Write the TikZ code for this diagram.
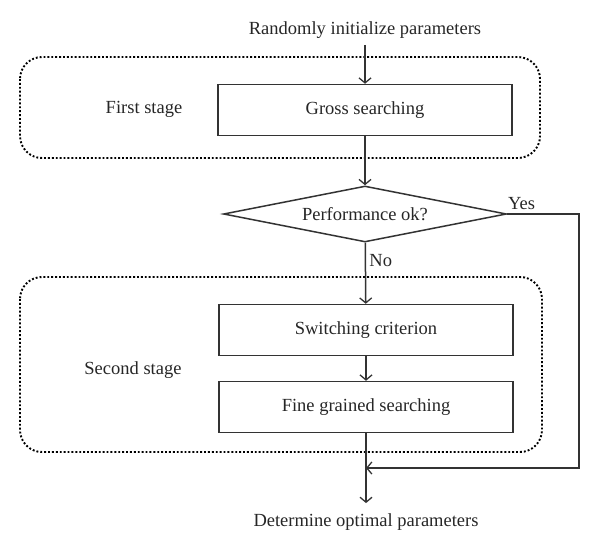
\documentclass[tikz,border=0pt]{standalone}
\usepackage{fontspec}
\setmainfont{Liberation Serif}
\usepackage{tikz}
\usetikzlibrary{arrows.meta,shapes.geometric}

\begin{document}
\begin{tikzpicture}[x=1pt, y=-1pt,
    every node/.style={font=\fontsize{18.5}{22}\selectfont, text=black!85},
    line/.style={draw=black!80, line width=1.5pt},
    flow/.style={line, -{Straight Barb[length=5pt, width=12pt, line width=1.3pt]}},
    stagebox/.style={draw=black, line width=1.9pt, dotted, rounded corners=22pt},
    procbox/.style={line, rectangle, minimum width=294pt, minimum height=51pt, inner sep=0pt}]
    \useasboundingbox (0,0) rectangle (600,554);

    % stages
    \draw[stagebox] (20,57) rectangle (540,158);
    \draw[stagebox] (20,277) rectangle (542,452);
    \node[] at (144,109) (first) {First stage};
    \node[] at (133,370) (second) {Second stage};

    % blocks
    \node[] at (365,30) (init) {Randomly initialize parameters};
    \node[procbox] at (365,110) (gross) {Gross searching};
    \node[line, diamond, minimum width=283pt, minimum height=56pt, inner sep=0pt, aspect=5] at (365,214) (perf) {Performance ok?};
    \node[procbox] at (366,330) (switch) {Switching criterion};
    \node[procbox] at (366,407) (fine) {Fine grained searching};
    \node[] at (366,522) (out) {Determine optimal parameters};
    \coordinate (merge) at (366,468);
    \coordinate (yes) at (579,214);

    \draw[flow, shorten <=3pt] (init) -- (gross);
    \draw[flow] (gross) -- (perf);
    \draw[flow] (perf) -- node[anchor=west, pos=0.3] {No} (switch);
    \draw[flow] (switch) -- (fine);
    \draw[flow, shorten >=7pt] (fine) -- (out);
    \draw[flow] (perf.east) -- node[anchor=south, pos=0.2] {Yes} (yes) |- (merge);
\end{tikzpicture}
\end{document}
